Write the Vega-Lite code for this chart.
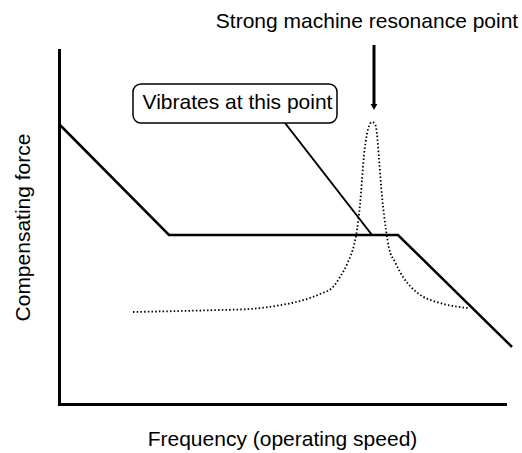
{
  "$schema": "https://vega.github.io/schema/vega-lite/v6.json",
  "width": 446,
  "height": 354,
  "autosize": {"type": "none"},
  "padding": {"left": 59, "top": 50, "right": 17, "bottom": 49},
  "background": "white",
  "config": {
    "view": {"stroke": null},
    "font": "Liberation Sans",
    "axis": {
      "domainColor": "black",
      "domainWidth": 3,
      "ticks": false,
      "labels": false,
      "grid": false,
      "titleFont": "Liberation Sans",
      "titleFontSize": 21,
      "titleFontWeight": "normal",
      "titleColor": "black"
    }
  },
  "datasets": {
    "force": [
      {"freq": 0, "force": 280},
      {"freq": 110, "force": 169},
      {"freq": 339, "force": 169},
      {"freq": 453, "force": 57}
    ],
    "vibrate": [
      {"freq": 226, "force": 281},
      {"freq": 313, "force": 169}
    ],
    "resonance": [
      {"freq": 74, "force": 92},
      {"freq": 121, "force": 93},
      {"freq": 161, "force": 94},
      {"freq": 191, "force": 95},
      {"freq": 216, "force": 98},
      {"freq": 241, "force": 103},
      {"freq": 261, "force": 110},
      {"freq": 274, "force": 117},
      {"freq": 281, "force": 127},
      {"freq": 289, "force": 142},
      {"freq": 295, "force": 159},
      {"freq": 298, "force": 174},
      {"freq": 301, "force": 199},
      {"freq": 303, "force": 224},
      {"freq": 305, "force": 249},
      {"freq": 308, "force": 270},
      {"freq": 310, "force": 278},
      {"freq": 313, "force": 282},
      {"freq": 316, "force": 280},
      {"freq": 318, "force": 270},
      {"freq": 320, "force": 245},
      {"freq": 323, "force": 208},
      {"freq": 327, "force": 174},
      {"freq": 330, "force": 156},
      {"freq": 336, "force": 142},
      {"freq": 344, "force": 127},
      {"freq": 353, "force": 116},
      {"freq": 363, "force": 108},
      {"freq": 381, "force": 101},
      {"freq": 409, "force": 96}
    ],
    "box": [
      {"x1": 74, "x2": 278, "y1": 281, "y2": 320, "tx": 178.5, "ty": 295, "label": "Vibrates at this point"}
    ],
    "arrow": [
      {"freq": 315, "top": 359, "tip": 297, "ty": 376, "label": "Strong machine resonance point", "lx": 308}
    ]
  },
  "layer": [
    {
      "data": {"name": "force"},
      "mark": {"type": "line", "color": "black", "strokeWidth": 2.5},
      "encoding": {
        "x": {"field": "freq", "type": "quantitative", "scale": {"domain": [0, 446], "nice": false}, "axis": {"title": "Frequency (operating speed)", "titlePadding": 24, "domainCap": "square"}},
        "y": {"field": "force", "type": "quantitative", "scale": {"domain": [0, 354], "nice": false}, "axis": {"title": "Compensating force", "titlePadding": 26, "domainCap": "square"}}
      }
    },
    {
      "data": {"name": "vibrate"},
      "mark": {"type": "line", "color": "black", "strokeWidth": 2},
      "encoding": {
        "x": {"field": "freq", "type": "quantitative"},
        "y": {"field": "force", "type": "quantitative"}
      }
    },
    {
      "data": {"name": "resonance"},
      "mark": {"type": "line", "color": "black", "strokeWidth": 1.8, "strokeDash": [1.5, 2.2], "interpolate": "monotone"},
      "encoding": {
        "x": {"field": "freq", "type": "quantitative"},
        "y": {"field": "force", "type": "quantitative"}
      }
    },
    {
      "data": {"name": "box"},
      "mark": {"type": "rect", "fill": "white", "stroke": "black", "strokeWidth": 1.5, "cornerRadius": 8},
      "encoding": {
        "x": {"field": "x1", "type": "quantitative"},
        "x2": {"field": "x2"},
        "y": {"field": "y1", "type": "quantitative"},
        "y2": {"field": "y2"}
      }
    },
    {
      "data": {"name": "box"},
      "mark": {"type": "text", "fontSize": 21, "color": "black", "align": "center", "baseline": "alphabetic"},
      "encoding": {
        "x": {"field": "tx", "type": "quantitative"},
        "y": {"field": "ty", "type": "quantitative"},
        "text": {"field": "label"}
      }
    },
    {
      "data": {"name": "arrow"},
      "mark": {"type": "rule", "color": "black", "strokeWidth": 3},
      "encoding": {
        "x": {"field": "freq", "type": "quantitative"},
        "y": {"field": "top", "type": "quantitative"},
        "y2": {"field": "tip"}
      }
    },
    {
      "data": {"name": "arrow"},
      "mark": {"type": "point", "shape": "triangle-down", "filled": true, "color": "black", "size": 45, "opacity": 1},
      "encoding": {
        "x": {"field": "freq", "type": "quantitative"},
        "y": {"field": "tip", "type": "quantitative"}
      }
    },
    {
      "data": {"name": "arrow"},
      "mark": {"type": "text", "fontSize": 21, "color": "black", "align": "center", "baseline": "alphabetic"},
      "encoding": {
        "x": {"field": "lx", "type": "quantitative"},
        "y": {"field": "ty", "type": "quantitative"},
        "text": {"field": "label"}
      }
    }
  ]
}
